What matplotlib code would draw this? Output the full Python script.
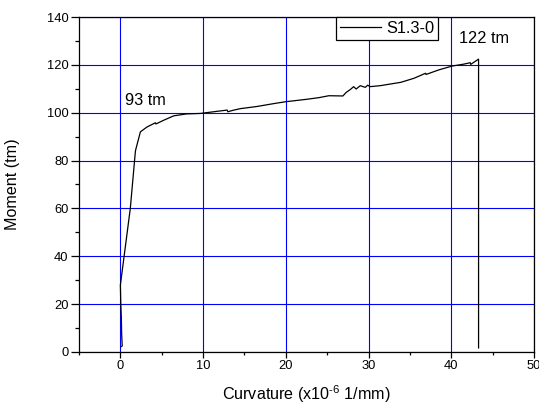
import matplotlib
matplotlib.use("Agg")
import matplotlib.pyplot as plt
from matplotlib.ticker import MultipleLocator

# Moment-curvature record
curvature = [0.08, 0.22, 0.15, 0.12, 0.05, 0.0, 0.6, 1.2, 1.81, 1.85, 2.42, 3.2,
             4.23, 4.3, 5.2, 6.45, 8.0, 9.67, 11.5, 12.9, 13.0, 13.6, 14.5, 16.5,
             18.7, 20.0, 22.5, 24.0, 25.2, 26.9, 27.3, 27.8, 28.2, 28.5, 29.0,
             29.6, 29.9, 30.2, 31.4, 33.9, 35.5, 36.9, 36.95, 38.5, 40.1, 41.5,
             42.3, 42.35, 43.3, 43.3]
moment = [2.2, 2.5, 8, 14, 20, 28, 44, 60, 83.7, 84.5, 92, 94,
          95.8, 95.3, 96.8, 98.7, 99.5, 99.7, 100.5, 101.1, 100.4, 101.0, 101.7, 102.6,
          103.9, 104.6, 105.6, 106.3, 107.1, 107.0, 108.5, 109.7, 110.9, 109.9, 111.3,
          110.6, 111.5, 110.9, 111.3, 112.7, 114.4, 116.5, 116.0, 117.9, 119.5, 120.3,
          120.9, 120.2, 122.4, 1.7]

series_label = "S1.3-0"
annotations = [("93 tm", 0.5, 105.0), ("122 tm", 40.9, 130.9)]

plt.rcParams['font.family'] = ['Liberation Sans', 'DejaVu Sans']
plt.rcParams['mathtext.fontset'] = 'custom'
plt.rcParams['mathtext.rm'] = 'Liberation Sans'

fig = plt.figure(figsize=(5.39, 4.08), dpi=100)
ax = fig.add_axes([0.1466, 0.1373, 0.9907 - 0.1466, 0.9583 - 0.1373])

ax.plot(curvature, moment, color="black", linewidth=0.9, label=series_label, zorder=3)

for txt, x, y in annotations:
    ax.text(x, y, txt, ha="left", va="center", fontsize=11.8, zorder=4)

ax.set_xlim(-5, 50)
ax.set_ylim(0, 140)
ax.xaxis.set_major_locator(MultipleLocator(10))
ax.xaxis.set_minor_locator(MultipleLocator(5))
ax.yaxis.set_major_locator(MultipleLocator(20))
ax.yaxis.set_minor_locator(MultipleLocator(10))

ax.grid(True, which="major", color="#0000ff", linewidth=0.8, zorder=1)
ax.set_axisbelow(True)

ax.tick_params(axis="x", which="major", direction="out", length=4, width=0.9, labelsize=9.3, pad=2)
ax.tick_params(axis="x", which="minor", direction="out", length=2.2, width=0.9)
ax.tick_params(axis="y", which="major", direction="out", length=5.5, width=0.9, labelsize=9.3, pad=2)
ax.tick_params(axis="y", which="minor", direction="out", length=3, width=0.9)
for sp in ax.spines.values():
    sp.set_linewidth(0.9)

ax.set_xlabel(r"Curvature (x10$^{\mathrm{\text{-}6}}$ 1/mm)", fontsize=11.6, labelpad=8)
ax.set_ylabel("Moment (tm)", fontsize=11.6, labelpad=19)

leg = ax.legend(loc="upper left", bbox_to_anchor=(0.565, 1.0), borderaxespad=0,
                fontsize=11.8, fancybox=False, framealpha=1, edgecolor="black",
                handlelength=2.5, handletextpad=0.3, borderpad=0.25)
leg.get_frame().set_linewidth(0.9)
leg.set_zorder(5)

fig.savefig("out.png", dpi=100)
